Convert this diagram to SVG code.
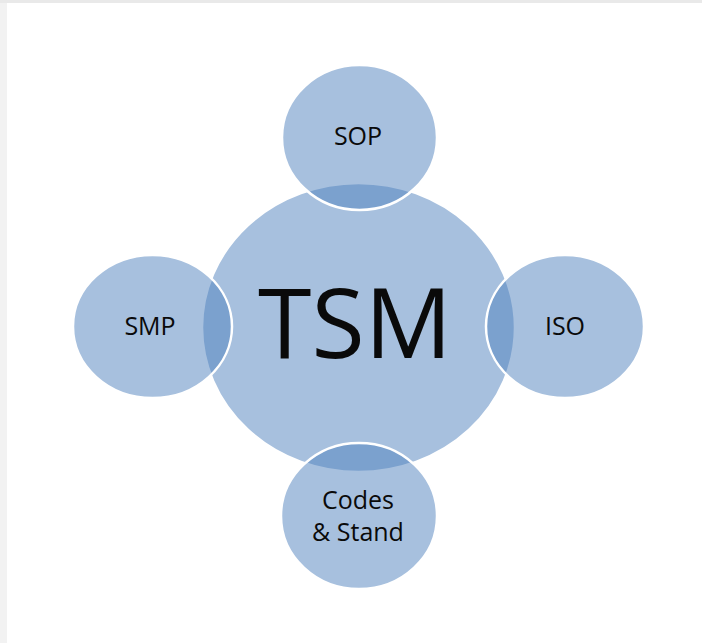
<svg xmlns="http://www.w3.org/2000/svg" width="702" height="643" viewBox="0 0 702 643">
<style>
.c{fill:#4F81BD;fill-opacity:0.5;stroke:#ffffff;stroke-width:2.5}
.t{font-family:"Open Sans","Noto Sans","Liberation Sans",sans-serif;fill:#0a0a0a;text-anchor:middle}
.s{font-size:25px}
</style>
<rect x="0" y="0" width="702" height="643" fill="#f2f2f2"/>
<rect x="0" y="0" width="702" height="3" fill="#e9e9e9"/>
<rect x="7" y="3" width="695" height="640" fill="#ffffff"/>
<g id="TSM">
<ellipse class="c" cx="358.5" cy="327.5" rx="156.5" ry="144.5"/>
<text class="t" x="355" y="358" font-size="97">TSM</text>
</g>
<g id="SOP">
<ellipse class="c" cx="359.5" cy="137.5" rx="77.5" ry="72.5"/>
<text class="t s" x="358" y="145">SOP</text>
</g>
<g id="SMP">
<ellipse class="c" cx="152.5" cy="326.5" rx="79.5" ry="71.5"/>
<text class="t s" x="150" y="335">SMP</text>
</g>
<g id="ISO">
<ellipse class="c" cx="565" cy="326.5" rx="79" ry="71.5"/>
<text class="t s" x="565" y="335">ISO</text>
</g>
<g id="Codes">
<ellipse class="c" cx="359" cy="516" rx="78" ry="73"/>
<text class="t s" x="358" y="509">Codes</text>
<text class="t s" x="358" y="541">&amp; Stand</text>
</g>
<g id="connectors"/>
</svg>
